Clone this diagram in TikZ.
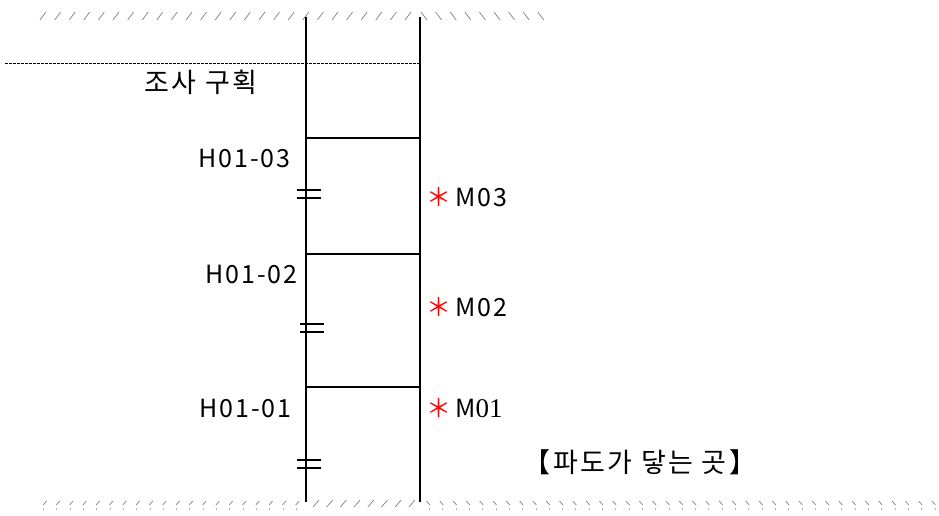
\documentclass[tikz,border=0pt]{standalone}
\usepackage{fontspec}
\setmainfont{Noto Sans CJK KR}
\newfontfamily\spacedfont[LetterSpace=8]{Noto Sans CJK KR}
\newfontfamily\hangulfont[LetterSpace=9]{Noto Sans CJK KR}
\newfontfamily\numfont{Liberation Serif}
\usetikzlibrary{positioning}

\begin{document}
\begin{tikzpicture}[x=1pt,y=-1pt,semithick]
 \tikzset{
 	wall line/.style={line width=1.7pt},
 	rung line/.style={line width=1.5pt},
 	tide line/.style={dash pattern=on 2.5pt off 1.5pt,line width=0.6pt},
 	hatch line/.style={gray,line width=0.7pt},
 	hatch dot/.style={gray!60,line width=0.7pt},
 	mark line/.style={line width=2pt},
 	label node/.style={inner sep=0pt,font=\spacedfont\fontsize{25}{30}\selectfont},
 	hangul node/.style={inner sep=0pt,font=\hangulfont\fontsize{27}{32}\selectfont},
 	point node/.style={inner sep=0pt,font=\spacedfont\fontsize{25}{30}\selectfont,anchor=west}
 }
 \useasboundingbox (0,0) rectangle (939,516);

       % hatching, top and bottom
       \foreach \x in {43,57.6,...,412} \draw[hatch line] (\x-3,20) -- (\x+3,12);
       \foreach \x in {424,438.6,...,542} \draw[hatch line] (\x-3,12) -- (\x+3,20);
       \foreach \x in {45,58.3,...,300} {
         \draw[hatch line] (\x-2,505) -- (\x+1.5,501);
         \draw[hatch dot] (\x-1.5,508) -- (\x-1.5,510);
       }
       \foreach \x in {316,329.7,...,416} \draw[hatch line] (\x-3,507) -- (\x+3,500);
       \foreach \x in {428,441.3,...,935} {
         \draw[hatch line] (\x-1.5,501) -- (\x+2,505);
         \draw[hatch dot] (\x+1.5,508) -- (\x+1.5,510);
       }

       \coordinate (lt) at (306,17);
       \coordinate (lb) at (306,502);
       \coordinate (rt) at (420,17);
       \coordinate (rb) at (420,502);
       \coordinate (tl) at (5,63);
       \coordinate (tr) at (420,63);
       \coordinate (l3) at (306,138);
       \coordinate (r3) at (420,138);
       \coordinate (l2) at (306,254);
       \coordinate (r2) at (420,254);
       \coordinate (l1) at (306,387);
       \coordinate (r1) at (420,387);

       \node[hangul node] (plan) at (201,82) {조사 구획};
       \node[label node,anchor=east] (h3) at (291,158) {H01-03};
       \node[label node,anchor=east] (h2) at (298,274) {H01-02};
       \node[label node,anchor=east] (h1) at (292,408) {H01-01};
       \node[point node] (m3) at (426,197) {\textcolor{red}{＊}\hspace{4pt}M03};
       \node[point node] (m2) at (426,307) {\textcolor{red}{＊}\hspace{4pt}M02};
       \node[point node] (m1) at (426,408) {\textcolor{red}{＊}\hspace{4pt}M{\numfont\fontsize{27}{30}\selectfont 01}};
       \node[hangul node] (wave) at (640,462) {【파도가 닿는 곳】};

     \draw[tide line] (tl) -- (tr);
     \draw[wall line] (lt) -- (lb);
     \draw[wall line] (rt) -- (rb);
     \draw[rung line] (l3) -- (r3);
     \draw[rung line] (l2) -- (r2);
     \draw[rung line] (l1) -- (r1);

     % break marks on the left wall
     \foreach \x/\y in {297/190,300/324,297/460} {
       \draw[mark line] (\x,\y) -- ++(24,0);
       \draw[mark line] (\x,\y+7.5) -- ++(24,0);
     }
\end{tikzpicture}
\end{document}
